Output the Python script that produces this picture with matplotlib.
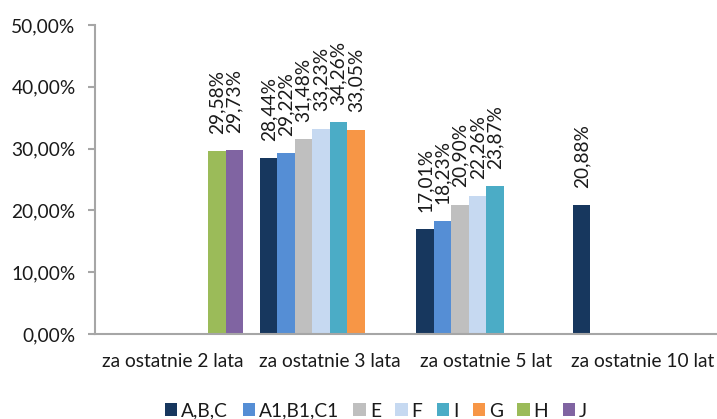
import numpy as np
import matplotlib
matplotlib.use("Agg")
import matplotlib.pyplot as plt
from matplotlib.ticker import FuncFormatter

plt.rcParams["font.family"] = ["Lato", "DejaVu Sans"]

# dane (w %), None = brak słupka
categories = ["za ostatnie 2 lata", "za ostatnie 3 lata", "za ostatnie 5 lat", "za ostatnie 10 lat"]
series_names = ["A,B,C", "A1,B1,C1", "E", "F", "I", "G", "H", "J"]
abc = [None, 28.44, 17.01, 20.88]
a1b1c1 = [None, 29.22, 18.23, None]
e_vals = [None, 31.48, 20.90, None]
f_vals = [None, 33.23, 22.26, None]
i_vals = [None, 34.26, 23.87, None]
g_vals = [None, 33.05, None, None]
h_vals = [29.58, None, None, None]
j_vals = [29.73, None, None, None]
colors = ["#17375E", "#558ED5", "#BFBFBF", "#C6D9F1", "#4BACC6", "#F79646", "#9BBB59", "#8064A2"]

all_series = [abc, a1b1c1, e_vals, f_vals, i_vals, g_vals, h_vals, j_vals]

FS = 13.8

fig = plt.figure(figsize=(7.17, 4.19), dpi=100)
ax = fig.add_axes([95 / 717, 85 / 419, 622 / 717, 309 / 419])

x = np.arange(len(categories))
group_w = 0.894
bar_w = group_w / len(series_names)

for k, (name, vals, col) in enumerate(zip(series_names, all_series, colors)):
    offset = -group_w / 2 + (k + 0.5) * bar_w
    xs = [xi + offset for xi, v in zip(x, vals) if v is not None]
    ys = [v for v in vals if v is not None]
    ax.bar(xs, ys, width=bar_w, color=col, label=name)
    for xx, yy in zip(xs, ys):
        ax.annotate(f"{yy:.2f}%".replace(".", ","), (xx, yy), xytext=(0, 12.5),
                    textcoords="offset points", rotation=90, ha="center", va="bottom",
                    fontsize=FS, color="#1a1a1a")

ax.set_xlim(-0.5, -0.5 + 622 / 156.5)
ax.set_ylim(0, 50)
ax.set_yticks(np.arange(0, 51, 10))
ax.yaxis.set_major_formatter(FuncFormatter(lambda v, p: f"{v:.2f}%".replace(".", ",")))
ax.set_xticks(x)
ax.set_xticklabels(categories)

ax.spines["top"].set_visible(False)
ax.spines["right"].set_visible(False)
for s in ["left", "bottom"]:
    ax.spines[s].set_color("#A6A6A6")
    ax.spines[s].set_linewidth(1.5)
ax.tick_params(axis="y", length=5, width=1.5, color="#A6A6A6", pad=9, labelsize=FS, labelcolor="#1a1a1a")
ax.tick_params(axis="x", length=0, pad=14, labelsize=FS, labelcolor="#1a1a1a")

fig.legend(loc="center", bbox_to_anchor=(376 / 717, 1 - 411 / 419), ncol=8, frameon=False,
           fontsize=FS, handlelength=0.65, handleheight=0.65, handletextpad=0.2, columnspacing=0.75,
           labelcolor="#1a1a1a")

fig.savefig("out.png", dpi=100)
